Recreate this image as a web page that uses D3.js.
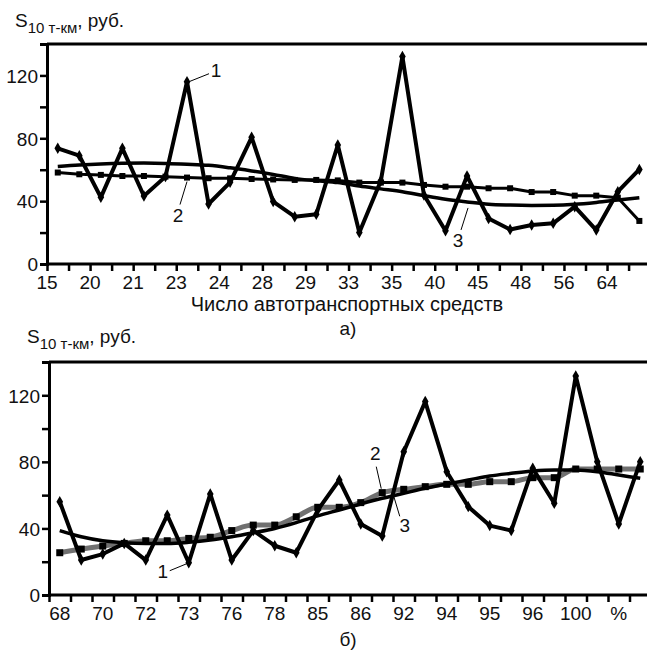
<!DOCTYPE html>
<html>
<head>
<meta charset="utf-8">
<script src="https://cdn.jsdelivr.net/npm/d3@7"></script>
<style>
  body { margin: 0; background: #fff; }
  svg text { font-family: Arial, "Liberation Sans", sans-serif; fill: #111; }
</style>
</head>
<body>
<div id="chart"></div>
<script>
// tick labels of the two panels
const labelsA = ["15","20","21","23","24","28","29","33","35","40","45","48","56","64"];
const labelsB = ["68","70","72","73","76","78","85","86","92","94","95","96","100","%"];

// panel a) series: 1 - actual, 2 - squares line, 3 - trend
const a1 = [73.6, 68.9, 42.4, 73.6, 43.3, 55.6, 116, 38.2, 52, 80.6, 39.7, 30.1, 31.6, 75.7,
            20, 53, 132, 43.9, 21.2, 56, 29, 22, 24.8, 25.9, 36.5, 21.6, 46, 60.2];
const a2 = [58.2, 57.1, 56.7, 56, 56, 55.6, 55, 54.6, 54.5, 54.1, 53.8, 53.5, 53.5, 53.2,
            51.8, 51.8, 51.8, 50.3, 49.2, 49.2, 48.2, 48.2, 45.8, 45.8, 43.5, 43.5, 42.2, 27.4];
const a3 = [62, 63, 63.7, 64.1, 64.2, 64, 63.5, 62.8, 61.2, 59.2, 57, 54.5, 53, 51.8,
            49.6, 47.8, 46, 43.5, 41.2, 39.5, 38, 37.5, 37.3, 37.4, 38, 39.2, 40.7, 42.2];

// panel б) series
const b1 = [56.1, 21, 24.6, 31, 21, 48, 19.4, 60.7, 21, 38.7, 29.6, 25.4, 51, 69.1,
            42.7, 35.5, 86.1, 116.2, 74.1, 53.1, 41.7, 38.7, 76.1, 55.1, 131.6, 80.1, 42.7, 80.1];
const b2 = [25.4, 27.6, 29.4, 31, 32.6, 32.6, 34, 34.7, 38.7, 42, 42, 47, 52.7, 52.7,
            55.5, 61.5, 63.5, 65.1, 66.5, 66.5, 68.1, 68.1, 70.5, 70.5, 75.7, 75.7, 75.7, 75.7];
const b3 = [38.7, 35, 32.6, 31.4, 31, 31, 31.7, 33, 35, 37.4, 40, 43.5, 47.5, 51.1,
            54.7, 58.1, 61.1, 64.1, 66.7, 69.1, 71.5, 73.1, 74.5, 75.1, 75.1, 74.1, 72.1, 70.1];

const yTicks = [0, 20, 40, 60, 80, 100, 120, 140];
const yLabels = [0, 40, 80, 120];

const W = 647, H = 657;
const svg = d3.select("#chart").append("svg").attr("width", W).attr("height", H);

function drawPanel(p) {
  const n = p.s1.length;
  const x = d3.scaleLinear().domain([0, n]).range([p.left, p.left + n * p.step]);
  const y = d3.scaleLinear().domain([0, 140]).range([p.bottom, p.top]);
  const g = svg.append("g");
  const cx = (d, i) => x(i + 0.5);

  // frame: top line
  g.append("line")
    .attr("x1", p.left).attr("x2", W)
    .attr("y1", y(140)).attr("y2", y(140))
    .attr("stroke", "#000").attr("stroke-width", 3);

  // y axis
  const yAxis = g.append("g")
    .attr("transform", `translate(${p.left},0)`)
    .call(d3.axisLeft(y).tickValues(yTicks).tickSize(7)
      .tickFormat(d => yLabels.includes(d) ? d : ""));
  yAxis.select(".domain").attr("stroke", "#000").attr("stroke-width", 3);
  yAxis.selectAll(".tick line").attr("stroke", "#000").attr("stroke-width", 2.5);
  yAxis.selectAll(".tick text").attr("font-size", 19).attr("x", -9).attr("dy", "0.36em")
    .attr("font-family", "Arial, 'Liberation Sans', sans-serif").attr("fill", "#111");

  // x axis: ticks at category boundaries
  const xAxis = g.append("g")
    .attr("transform", `translate(0,${p.bottom})`)
    .call(d3.axisBottom(x).tickValues(d3.range(0, n + 1)).tickSize(7).tickFormat(""));
  xAxis.select(".domain").attr("stroke", "#000").attr("stroke-width", 3)
    .attr("d", `M${p.left},0H${W}`);
  xAxis.selectAll(".tick line").attr("stroke", "#000").attr("stroke-width", 2.5);

  g.selectAll(".xlab")
    .data(p.labels)
    .join("text")
      .attr("class", "xlab")
      .attr("text-anchor", "middle")
      .attr("font-size", 19)
      .attr("x", (d, i) => x(i * 2 + p.labelShift))
      .attr("y", p.bottom + 25)
      .text(d => d);

  const line = d3.line().x(cx).y(d => y(d));
  const smooth = d3.line().x(cx).y(d => y(d)).curve(d3.curveMonotoneX);

  // series 2
  g.append("path").datum(p.s2)
    .attr("fill", "none").attr("stroke", p.s2Color).attr("stroke-width", p.s2Width)
    .attr("stroke-linejoin", "round")
    .attr("d", p.s2Smooth ? smooth : line);
  g.selectAll(".sq").data(p.s2).join("rect").attr("class", "sq")
    .attr("x", (d, i) => cx(d, i) - p.sq / 2)
    .attr("y", d => y(d) - p.sq / 2)
    .attr("width", p.sq).attr("height", p.sq)
    .attr("fill", "#000");

  // series 3 trend
  g.append("path").datum(p.s3)
    .attr("fill", "none").attr("stroke", "#000").attr("stroke-width", 3.5)
    .attr("d", smooth);

  // series 1
  g.append("path").datum(p.s1)
    .attr("fill", "none").attr("stroke", "#000").attr("stroke-width", 4)
    .attr("stroke-linejoin", "round")
    .attr("d", line);
  g.selectAll(".dm").data(p.s1).join("path").attr("class", "dm")
    .attr("transform", (d, i) => `translate(${cx(d, i)},${y(d)})`)
    .attr("d", d3.symbol(d3.symbolDiamond, 38))
    .attr("fill", "#000");

  // y axis title
  const t = g.append("text").attr("x", p.titleX).attr("y", p.titleY).attr("font-size", 19);
  t.append("tspan").text("S");
  t.append("tspan").attr("font-size", 15).attr("dy", 6).text("10 т-км");
  t.append("tspan").attr("dy", -6).text(", руб.");

  // callouts
  p.callouts.forEach(c => {
    const px = cx(null, c.k), py = y(c.series[c.k]);
    g.append("line")
      .attr("x1", px + c.lx1).attr("y1", py + c.ly1)
      .attr("x2", px + c.lx2).attr("y2", py + c.ly2)
      .attr("stroke", "#000").attr("stroke-width", 1);
    g.append("text")
      .attr("x", px + c.tx).attr("y", py + c.ty)
      .attr("font-size", 19).attr("text-anchor", "middle")
      .text(c.text);
  });

  if (p.xTitle) {
    g.append("text").attr("x", 347).attr("y", 311).attr("font-size", 20)
      .attr("text-anchor", "middle").text(p.xTitle);
  }
  g.append("text").attr("x", 348).attr("y", p.capY).attr("font-size", 19)
    .attr("text-anchor", "middle").text(p.caption);
}

drawPanel({
  left: 47, step: 21.54, top: 44, bottom: 264,
  labels: labelsA, labelShift: 0,
  s1: a1, s2: a2, s3: a3,
  s2Color: "#000", s2Width: 3, s2Smooth: false, sq: 6,
  titleX: 15, titleY: 27,
  xTitle: "Число автотранспортных средств",
  caption: "а)", capY: 335,
  callouts: [
    { text: "1", k: 6, series: a1, lx1: 2, ly1: 0, lx2: 22, ly2: -8, tx: 29, ty: -5 },
    { text: "2", k: 6, series: a2, lx1: 0, ly1: 4, lx2: -7, ly2: 27, tx: -9, ty: 44 },
    { text: "3", k: 19, series: a3, lx1: 1, ly1: 6, lx2: -6, ly2: 28, tx: -9, ty: 45 }
  ]
});

drawPanel({
  left: 49, step: 21.5, top: 362, bottom: 595,
  labels: labelsB, labelShift: 0.5,
  s1: b1, s2: b2, s3: b3,
  s2Color: "#707070", s2Width: 5, s2Smooth: true, sq: 7,
  titleX: 27, titleY: 343,
  xTitle: null,
  caption: "б)", capY: 646,
  callouts: [
    { text: "1", k: 6, series: b1, lx1: -2, ly1: 1, lx2: -19, ly2: 8, tx: -26, ty: 15 },
    { text: "2", k: 15, series: b2, lx1: -1, ly1: -4, lx2: -6, ly2: -26, tx: -7, ty: -33 },
    { text: "3", k: 16, series: b3, lx1: -10, ly1: 3, lx2: -4, ly2: 23, tx: 1, ty: 39 }
  ]
});
</script>
</body>
</html>
